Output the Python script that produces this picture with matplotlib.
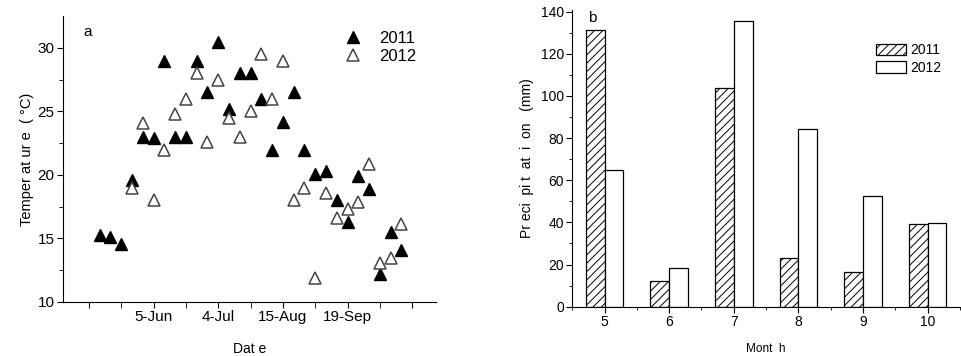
import numpy as np
import matplotlib
matplotlib.use("Agg")
import matplotlib.pyplot as plt

plt.rcParams['font.family'] = ['Liberation Sans', 'DejaVu Sans']
plt.rcParams['hatch.linewidth'] = 0.7

# panel a: temperature at each sampling date (sample number on x)
obs_2011 = np.arange(1, 30)
temp_2011 = [15.3, 15.1, 14.6, 19.6, 23.0, 22.9, 29.0, 23.0, 23.0, 29.0,
             26.5, 30.5, 25.2, 28.0, 28.0, 26.0, 22.0, 24.2, 26.5, 22.0,
             20.1, 20.3, 18.0, 16.3, 19.9, 18.9, 12.2, 15.5, 14.1]
obs_2012 = np.arange(4, 30)
temp_2012 = [19.0, 24.1, 18.0, 22.0, 24.8, 26.0, 28.0, 22.6, 27.5, 24.5,
             23.0, 25.0, 29.5, 26.0, 29.0, 18.0, 19.0, 11.9, 18.6, 16.6,
             17.3, 17.9, 20.9, 13.1, 13.5, 16.1]
date_ticks = [0, 6, 12, 18, 24, 30]
date_labels = ['', '5-Jun', '4-Jul', '15-Aug', '19-Sep', '']

# panel b: monthly precipitation
months = [5, 6, 7, 8, 9, 10]
prec_2011 = [131.3, 12.2, 103.6, 22.9, 16.3, 39.2]
prec_2012 = [64.9, 18.2, 135.6, 84.2, 52.5, 39.9]

fig = plt.figure(figsize=(9.61, 3.56), dpi=100)

# ---- a ----
ax1 = fig.add_axes([0.0656, 0.1517, 0.388, 0.803])
ax1.plot(obs_2011, temp_2011, ls='none', marker='^', ms=8.5,
         mfc='black', mec='black', label='2011')
ax1.plot(obs_2012, temp_2012, ls='none', marker='^', ms=8.5,
         mfc='white', mec='#444444', mew=1.1, label='2012')
ax1.set_xlim(-2.4, 32.2)
ax1.set_ylim(10, 32.5)
ax1.set_xticks(date_ticks)
ax1.set_xticklabels(date_labels)
ax1.set_xticks(np.arange(3, 30, 6), minor=True)
ax1.set_yticks([10, 15, 20, 25, 30])
ax1.set_yticks(np.arange(12.5, 32.5, 5), minor=True)
ax1.tick_params(which='major', direction='out', length=4, labelsize=11, pad=2)
ax1.tick_params(which='minor', direction='out', length=3)
ax1.tick_params(axis='x', which='minor', length=4)
for s in ['top', 'right']:
    ax1.spines[s].set_visible(False)
ax1.set_xlabel('Dat e', fontsize=10, labelpad=13)
ax1.set_ylabel('Temper at ur e  ( °C)', fontsize=10.5, labelpad=3)
ax1.text(0.055, 0.97, 'a', transform=ax1.transAxes, fontsize=11, va='top')
ax1.legend(loc='upper right', frameon=False, fontsize=12, handletextpad=0.6,
           labelspacing=0.2, borderaxespad=0.3, bbox_to_anchor=(0.98, 0.99))

# ---- b ----
ax2 = fig.add_axes([0.5955, 0.1385, 0.4034, 0.8335])
w = 0.29
x = np.array(months)
ax2.bar(x - w / 2, prec_2011, width=w, color='white', edgecolor='black',
        hatch='////', lw=0.9, label='2011')
ax2.bar(x + w / 2, prec_2012, width=w, color='white', edgecolor='black',
        lw=0.9, label='2012')
ax2.set_xlim(4.52, 10.35)
ax2.set_ylim(0, 140.8)
ax2.set_xticks(months)
ax2.set_xticks(np.arange(4.5, 10.6, 1), minor=True)
ax2.set_yticks(np.arange(0, 141, 20))
ax2.set_yticks(np.arange(10, 140, 20), minor=True)
ax2.tick_params(which='major', direction='out', length=4, labelsize=10, pad=2)
ax2.tick_params(which='minor', direction='out', length=2.5)
for s in ['top', 'right']:
    ax2.spines[s].set_visible(False)
ax2.set_xlabel('Mont  h', fontsize=8.5, labelpad=10)
ax2.set_ylabel('Pr eci  pi t  at  i  on   (mm)', fontsize=10, labelpad=5)
ax2.text(0.04, 0.995, 'b', transform=ax2.transAxes, fontsize=11, va='top')
ax2.legend(loc='upper right', frameon=False, fontsize=10, handlelength=2.2,
           handleheight=0.9, handletextpad=0.3, labelspacing=0.25,
           bbox_to_anchor=(0.985, 0.93))

fig.savefig('out.png', dpi=100)
